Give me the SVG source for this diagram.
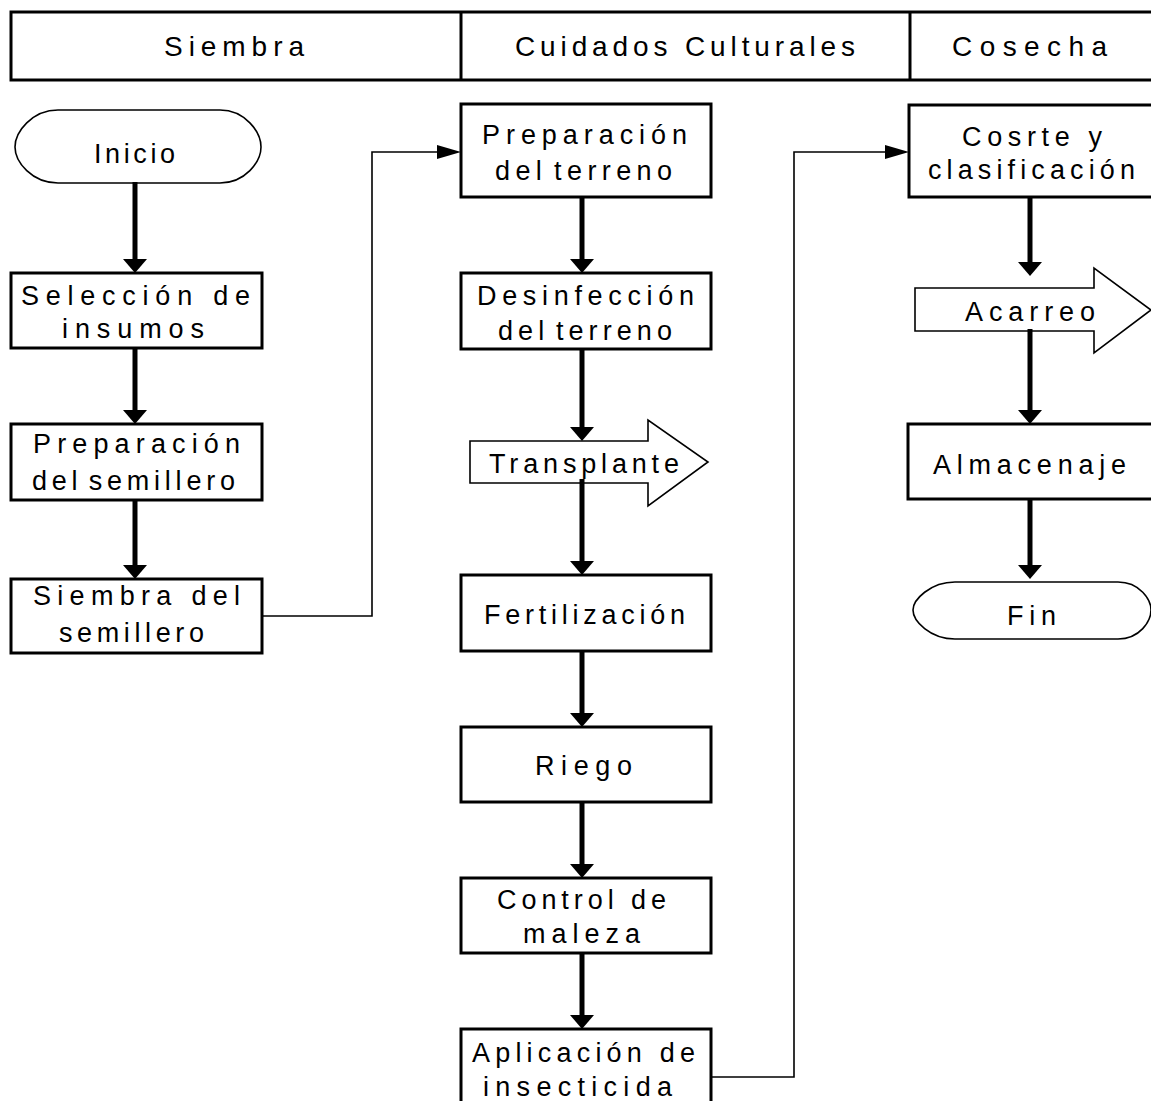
<svg xmlns="http://www.w3.org/2000/svg" width="1151" height="1101" viewBox="0 0 1151 1101">
  <style>
    .box { fill: #fff; stroke: #000; stroke-width: 3; }
    .term { fill: #fff; stroke: #000; stroke-width: 1.6; }
    .big { fill: #fff; stroke: #000; stroke-width: 1.6; stroke-linejoin: miter; }
    .flow { fill: none; stroke: #000; stroke-width: 5; marker-end: url(#ah); }
    .link { fill: none; stroke: #000; stroke-width: 1.6; marker-end: url(#ahs); }
    .lbl { font-family: "Liberation Sans", Arial, sans-serif; font-size: 27px; fill: #000; }
    .hdr { font-family: "Liberation Sans", Arial, sans-serif; font-size: 28px; fill: #000; }
  </style>
  <defs>
    <!-- heavy arrowhead for the vertical flow lines -->
    <marker id="ah" markerUnits="userSpaceOnUse" viewBox="0 0 14 24" markerWidth="14" markerHeight="24" refX="6" refY="12" orient="auto">
      <path d="M0,0 L14,12 L0,24 Z" fill="#000"/>
    </marker>
    <!-- lighter arrowhead for the elbow links between columns -->
    <marker id="ahs" markerUnits="userSpaceOnUse" viewBox="0 0 24 14" markerWidth="24" markerHeight="14" refX="14" refY="7" orient="auto">
      <path d="M0,0 L24,7 L0,14 Z" fill="#000"/>
    </marker>
  </defs>

  <rect width="1151" height="1101" fill="#fff"/>

  <!-- column headers -->
  <g id="header">
    <rect class="box" x="11" y="12" width="1146" height="68"/>
    <line x1="461" y1="12" x2="461" y2="80" stroke="#000" stroke-width="3"/>
    <line x1="910" y1="12" x2="910" y2="80" stroke="#000" stroke-width="3"/>
    <text class="hdr" x="164" y="56" textLength="140" lengthAdjust="spacing">Siembra</text>
    <text class="hdr" x="515" y="56" textLength="340" lengthAdjust="spacing">Cuidados Culturales</text>
    <text class="hdr" x="952" y="56" textLength="155" lengthAdjust="spacing">Cosecha</text>
  </g>

  <!-- Siembra column -->
  <g id="inicio">
    <path class="term" d="M58,110 H220 C245,110 261,132 261,147 C261,162 245,183 220,183 H58 C32,183 15,162 15,147 C15,132 32,110 58,110 Z"/>
    <text class="lbl" x="94" y="163" textLength="81" lengthAdjust="spacing">Inicio</text>
  </g>
  <g id="seleccion">
    <rect class="box" x="11" y="273" width="251" height="75"/>
    <text class="lbl" x="21" y="305" textLength="229" lengthAdjust="spacing">Selección de</text>
    <text class="lbl" x="62" y="338" textLength="142" lengthAdjust="spacing">insumos</text>
  </g>
  <g id="prep-semillero">
    <rect class="box" x="11" y="424" width="251" height="76"/>
    <text class="lbl" x="33" y="453" textLength="207" lengthAdjust="spacing">Preparación</text>
    <text class="lbl" x="32" y="490" textLength="203" lengthAdjust="spacing" word-spacing="-6">del semillero</text>
  </g>
  <g id="siembra-semillero">
    <rect class="box" x="11" y="579" width="251" height="74"/>
    <text class="lbl" x="33" y="605" textLength="207" lengthAdjust="spacing">Siembra del</text>
    <text class="lbl" x="59" y="642" textLength="145" lengthAdjust="spacing">semillero</text>
  </g>

  <!-- Cuidados Culturales column -->
  <g id="prep-terreno">
    <rect class="box" x="461" y="104" width="250" height="93"/>
    <text class="lbl" x="482" y="144" textLength="205" lengthAdjust="spacing">Preparación</text>
    <text class="lbl" x="495" y="180" textLength="177" lengthAdjust="spacing" word-spacing="-6">del terreno</text>
  </g>
  <g id="desinfeccion">
    <rect class="box" x="461" y="273" width="250" height="76"/>
    <text class="lbl" x="477" y="305" textLength="217" lengthAdjust="spacing">Desinfección</text>
    <text class="lbl" x="498" y="340" textLength="174" lengthAdjust="spacing" word-spacing="-6">del terreno</text>
  </g>
  <g id="transplante">
    <path class="big" d="M470,441 H648 V420 L708,462 L648,506 V483 H470 Z"/>
    <text class="lbl" x="489" y="473" textLength="190" lengthAdjust="spacing">Transplante</text>
  </g>
  <g id="fertilizacion">
    <rect class="box" x="461" y="575" width="250" height="76"/>
    <text class="lbl" x="484" y="624" textLength="201" lengthAdjust="spacing">Fertilización</text>
  </g>
  <g id="riego">
    <rect class="box" x="461" y="727" width="250" height="75"/>
    <text class="lbl" x="535" y="775" textLength="97" lengthAdjust="spacing">Riego</text>
  </g>
  <g id="control-maleza">
    <rect class="box" x="461" y="878" width="250" height="75"/>
    <text class="lbl" x="497" y="909" textLength="169" lengthAdjust="spacing">Control de</text>
    <text class="lbl" x="523" y="943" textLength="117" lengthAdjust="spacing">maleza</text>
  </g>
  <g id="insecticida">
    <rect class="box" x="461" y="1029" width="250" height="80"/>
    <text class="lbl" x="472" y="1062" textLength="223" lengthAdjust="spacing">Aplicación de</text>
    <text class="lbl" x="483" y="1096" textLength="189" lengthAdjust="spacing">insecticida</text>
  </g>

  <!-- Cosecha column -->
  <g id="corte">
    <rect class="box" x="909" y="105" width="250" height="92"/>
    <text class="lbl" x="962" y="146" textLength="140" lengthAdjust="spacing">Cosrte y</text>
    <text class="lbl" x="928" y="179" textLength="207" lengthAdjust="spacing">clasificación</text>
  </g>
  <g id="acarreo">
    <path class="big" d="M915,288 H1094 V268 L1151,310 L1094,353 V331 H915 Z"/>
    <text class="lbl" x="965" y="321" textLength="130" lengthAdjust="spacing">Acarreo</text>
  </g>
  <g id="almacenaje">
    <rect class="box" x="908" y="424" width="251" height="75"/>
    <text class="lbl" x="933" y="474" textLength="193" lengthAdjust="spacing">Almacenaje</text>
  </g>
  <g id="fin">
    <path class="term" d="M955,582 H1118 C1140,582 1151,600 1151,610 C1151,621 1140,639 1118,639 H955 C930,639 913,621 913,610 C913,600 930,582 955,582 Z"/>
    <text class="lbl" x="1007" y="625" textLength="49" lengthAdjust="spacing">Fin</text>
  </g>

  <!-- connectors -->
  <g id="connectors">
    <path class="flow" d="M135,182 V265"/>
    <path class="flow" d="M135,347 V416"/>
    <path class="flow" d="M135,499 V571"/>

    <path class="flow" d="M582,196 V265"/>
    <path class="flow" d="M582,348 V433"/>
    <path class="flow" d="M582,479 V567"/>
    <path class="flow" d="M582,650 V719"/>
    <path class="flow" d="M582,801 V870"/>
    <path class="flow" d="M582,952 V1021"/>

    <path class="flow" d="M1030,196 V268"/>
    <path class="flow" d="M1030,329 V416"/>
    <path class="flow" d="M1030,498 V571"/>

    <path class="link" d="M262,616 H372 V152 H451"/>
    <path class="link" d="M711,1077 H794 V152 H899"/>
  </g>
</svg>
